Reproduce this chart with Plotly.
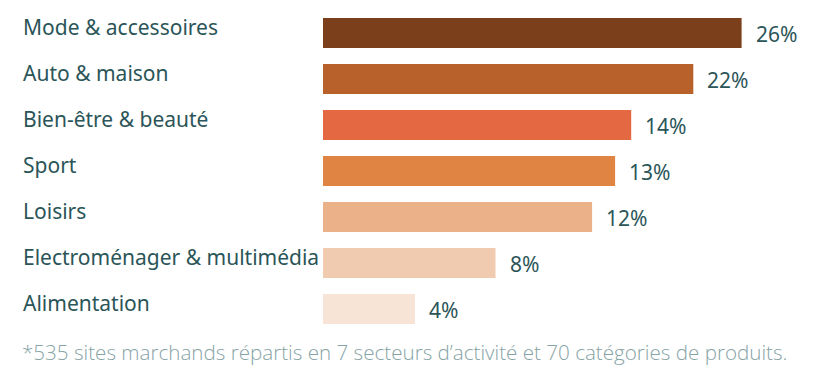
import plotly.graph_objects as go

categories = ["Mode & accessoires", "Auto & maison", "Bien-être & beauté", "Sport",
              "Loisirs", "Electroménager & multimédia", "Alimentation"]
pct_labels = ["26%", "22%", "14%", "13%", "12%", "8%", "4%"]
# bar lengths as drawn in the picture (not strictly proportional to the labels)
bar_lengths = [18.2, 16.1, 13.4, 12.7, 11.7, 7.5, 4.0]
colors = ["#7b3f1b", "#b8612b", "#e46842", "#e08444", "#ebb28a", "#f1cbb0", "#f7e4d6"]
footnote = "*535 sites marchands répartis en 7 secteurs d’activité et 70 catégories de produits."

OFF = 8  # page body margin
W, H = 820 - OFF, 382 - OFF
TEXT = "#2b5558"
FONT = "Noto Sans"


def px(x):
    return (x - OFF) / W


def py(y):
    return (H - (y - OFF)) / H


fig = go.Figure(go.Bar(
    x=bar_lengths, y=categories, orientation="h",
    marker=dict(color=colors, line=dict(width=0)),
    width=0.652, hoverinfo="skip",
))

annotations = []
for c, v, t in zip(categories, bar_lengths, pct_labels):
    annotations.append(dict(x=v, y=c, xref="x", yref="y", text=t, showarrow=False,
                            xanchor="left", yanchor="middle", xshift=12, yshift=-1,
                            font=dict(family=FONT, size=21, color=TEXT)))
    annotations.append(dict(x=px(21), y=c, xref="paper", yref="y", text=c, showarrow=False,
                            xanchor="left", yanchor="middle", yshift=6,
                            font=dict(family=FONT, size=21, color=TEXT)))
annotations.append(dict(x=px(20), y=py(352), xref="paper", yref="paper", text=footnote,
                        showarrow=False, xanchor="left", yanchor="middle",
                        font=dict(family="Open Sans", size=20.6, color="#86a3a5", weight=300)))

fig.update_layout(
    width=W, height=H, margin=dict(l=0, r=0, t=0, b=0),
    paper_bgcolor="white", plot_bgcolor="white", showlegend=False,
    xaxis=dict(domain=[px(323), 1], range=[0, (W - (323 - OFF)) / 23], visible=False, fixedrange=True),
    yaxis=dict(domain=[py(332), py(10)], autorange="reversed", visible=False, fixedrange=True),
    annotations=annotations,
)

fig.write_html("out.html", config={"displayModeBar": False})
